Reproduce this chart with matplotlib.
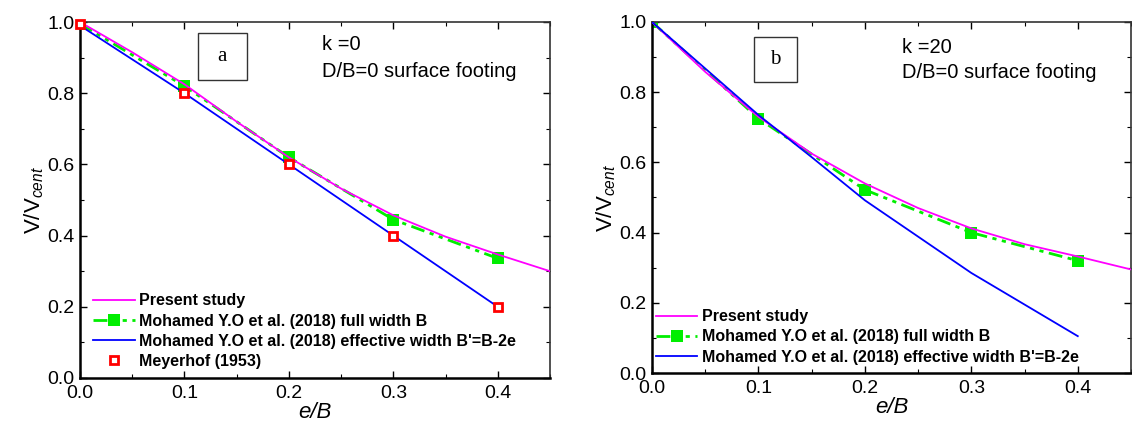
import matplotlib
matplotlib.use("Agg")
import matplotlib.pyplot as plt
from matplotlib.patches import Rectangle
from matplotlib.ticker import MultipleLocator

plt.rcParams['font.family'] = ['Liberation Sans', 'DejaVu Sans']
plt.rcParams['mathtext.fontset'] = 'custom'
plt.rcParams['mathtext.rm'] = 'Liberation Sans'
plt.rcParams['mathtext.it'] = 'Liberation Sans:italic'

# ---------------- data ----------------
# Panel a (k = 0)
a_present_x = [0.0, 0.05, 0.1, 0.15, 0.2, 0.25, 0.3, 0.35, 0.4, 0.45]
a_present_y = [1.0, 0.915, 0.825, 0.72, 0.62, 0.532, 0.457, 0.397, 0.347, 0.30]
a_full_x = [0.0, 0.1, 0.2, 0.3, 0.4]
a_full_y = [0.995, 0.82, 0.62, 0.445, 0.336]
a_eff_x = [0.0, 0.1, 0.2, 0.3, 0.4]
a_eff_y = [0.99, 0.80, 0.60, 0.40, 0.20]
a_mey_x = [0.0, 0.1, 0.2, 0.3, 0.4]
a_mey_y = [0.995, 0.80, 0.60, 0.40, 0.20]

# Panel b (k = 20)
b_present_x = [0.0, 0.05, 0.1, 0.15, 0.2, 0.25, 0.3, 0.35, 0.4, 0.45]
b_present_y = [1.0, 0.858, 0.73, 0.625, 0.54, 0.47, 0.412, 0.367, 0.332, 0.295]
b_full_x = [0.0, 0.1, 0.2, 0.3, 0.4]
b_full_y = [1.0, 0.725, 0.522, 0.40, 0.32]
b_eff_x = [0.0, 0.1, 0.15, 0.2, 0.3, 0.4]
b_eff_y = [1.0, 0.735, 0.615, 0.492, 0.285, 0.105]

lbl_present = "Present study"
lbl_full = "Mohamed Y.O et al. (2018) full width B"
lbl_eff = "Mohamed Y.O et al. (2018) effective width B'=B-2e"
lbl_mey = "Meyerhof (1953)"

W, H = 1132, 430
fig = plt.figure(figsize=(W / 100, H / 100), dpi=100)

def px_axes(l, r, t, b):
    return fig.add_axes([l / W, (H - b) / H, (r - l) / W, (b - t) / H])

axA = px_axes(80, 550, 22, 378)
axB = px_axes(652, 1131, 22, 373)

MAG = '#FF00FF'
GRN = '#00EE00'
BLU = '#0000FF'
RED = '#FF0000'
green_dash = (0, (5, 2, 1.5, 2, 1.5, 2))

def style(ax):
    ax.set_xlim(0, 0.45)
    ax.set_ylim(0, 1.0)
    ax.xaxis.set_minor_locator(MultipleLocator(0.05))
    ax.yaxis.set_minor_locator(MultipleLocator(0.1))
    ax.set_xticks([0.0, 0.1, 0.2, 0.3, 0.4])
    ax.set_xticklabels(['0.0', '0.1', '0.2', '0.3', '0.4'])
    ax.set_yticks([0.0, 0.2, 0.4, 0.6, 0.8, 1.0])
    ax.set_yticklabels(['0.0', '0.2', '0.4', '0.6', '0.8', '1.0'])
    ax.tick_params(which='both', direction='in', top=True, right=True,
                   labelsize=14, color='black')
    ax.tick_params(which='major', length=5, width=1.0)
    ax.tick_params(axis='x', which='major', pad=5)
    ax.tick_params(axis='y', which='major', pad=4)
    ax.tick_params(which='minor', length=3, width=0.8)
    for s in ['left', 'bottom']:
        ax.spines[s].set_linewidth(1.8)
        ax.spines[s].set_color('black')
    for s in ['top', 'right']:
        ax.spines[s].set_linewidth(1.2)
        ax.spines[s].set_color('#333333')
    ax.set_xlabel('e/B', fontsize=16, style='italic', labelpad=0)
    ax.set_ylabel(r'V/V$_{\mathit{cent}}$', fontsize=16, labelpad=1)

leg_kw = dict(loc='upper left', frameon=False,
              prop={'weight': 'bold', 'size': 11.5}, handlelength=2.6,
              handletextpad=0.3, labelspacing=0.33, borderpad=0,
              borderaxespad=0)

# ---- panel a ----
style(axA)
axA.plot(a_present_x, a_present_y, color=MAG, lw=1.3, zorder=3, label=lbl_present)
axA.plot(a_full_x, a_full_y, color=GRN, lw=2.0, linestyle=green_dash,
         marker='s', markersize=9, markeredgewidth=0, zorder=2, label=lbl_full)
axA.plot(a_eff_x, a_eff_y, color=BLU, lw=1.3, zorder=2.5, label=lbl_eff)
axA.plot(a_mey_x, a_mey_y, linestyle='none', marker='s', markersize=6,
         markerfacecolor='white', markeredgecolor=RED, markeredgewidth=2.0,
         zorder=4, label=lbl_mey, clip_on=False)
axA.legend(bbox_to_anchor=(0.028, 0.238), **leg_kw)
axA.add_patch(Rectangle((0.251, 0.837), 0.104, 0.132, transform=axA.transAxes,
                        fill=False, edgecolor='#333333', lw=1.0, zorder=5))
axA.text(0.303, 0.903, 'a', transform=axA.transAxes, ha='center', va='center',
         fontsize=15, family='Liberation Serif')
axA.text((322 - 80) / 470, (378 - 50) / 356, 'k =0', transform=axA.transAxes,
         fontsize=14.5, ha='left', va='baseline')
axA.text((322 - 80) / 470, (378 - 77) / 356, 'D/B=0 surface footing',
         transform=axA.transAxes, fontsize=14.5, ha='left', va='baseline')

# ---- panel b ----
style(axB)
axB.plot(b_present_x, b_present_y, color=MAG, lw=1.3, zorder=3, label=lbl_present)
axB.plot(b_full_x, b_full_y, color=GRN, lw=2.0, linestyle=green_dash,
         marker='s', markersize=9, markeredgewidth=0, zorder=2, label=lbl_full)
axB.plot(b_eff_x, b_eff_y, color=BLU, lw=1.3, zorder=3.5, label=lbl_eff)
axB.legend(bbox_to_anchor=(0.008, 0.182), **leg_kw)
axB.add_patch(Rectangle(((754 - 652) / 479, (373 - 82) / 351), 43 / 479, 45 / 351,
                        transform=axB.transAxes, fill=False, edgecolor='#333333',
                        lw=1.0, zorder=5))
axB.text((775.5 - 652) / 479, (373 - 60) / 351, 'b', transform=axB.transAxes,
         ha='center', va='center', fontsize=15, family='Liberation Serif')
axB.text((902 - 652) / 479, (373 - 53) / 351, 'k =20', transform=axB.transAxes,
         fontsize=14.5, ha='left', va='baseline')
axB.text((902 - 652) / 479, (373 - 78) / 351, 'D/B=0 surface footing',
         transform=axB.transAxes, fontsize=14.5, ha='left', va='baseline')

fig.savefig('out.png', dpi=100)
